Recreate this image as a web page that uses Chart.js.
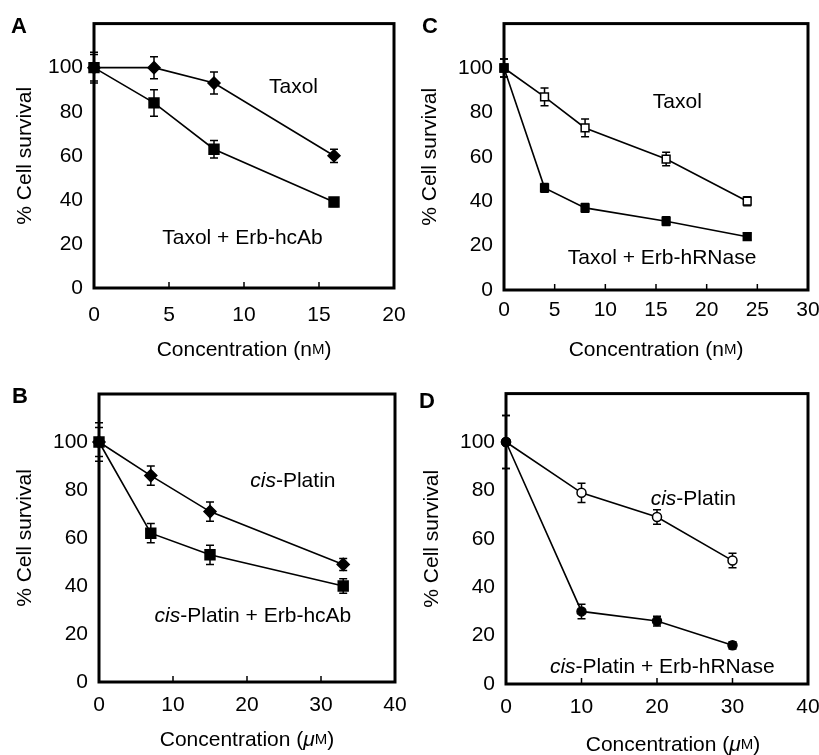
<!DOCTYPE html>
<html>
<head>
<meta charset="utf-8">
<script src="https://cdn.jsdelivr.net/npm/chart.js@4.4.0/dist/chart.umd.min.js"></script>
<style>
body { margin:0; background:#fff; width:819px; height:755px; position:relative; overflow:hidden; }
canvas { position:absolute; }
</style>
</head>
<body>
<canvas id="cA" width="410" height="370" style="left:0;top:0"></canvas>
<canvas id="cC" width="409" height="370" style="left:410px;top:0"></canvas>
<canvas id="cB" width="410" height="385" style="left:0;top:370px"></canvas>
<canvas id="cD" width="409" height="385" style="left:410px;top:370px"></canvas>
<script>
const FONT = '"Liberation Sans", Arial, Helvetica, sans-serif';
const yTicks = [0, 20, 40, 60, 80, 100];

// A: Taxol, nM
const concA = [0, 4, 8, 16];
const taxolA = [100, 100, 93, 60];
const taxolAErr = [7, 5, 5, 3];
const comboA = [100, 84, 63, 39];
const comboAErr = [6, 6, 4, 2];
const xTicksA = [0, 5, 10, 15, 20];

// C: Taxol, nM
const concC = [0, 4, 8, 16, 24];
const taxolC = [100, 87, 73, 59, 40];
const taxolCErr = [4, 4, 4, 3, 2];
const comboC = [100, 46, 37, 31, 24];
const comboCErr = [4, 2, 2, 2, 1.5];
const xTicksC = [0, 5, 10, 15, 20, 25, 30];

// B: cis-Platin, uM
const concB = [0, 7, 15, 33];
const platinB = [100, 86, 71, 49];
const platinBErr = [8, 4, 4, 2.5];
const comboB = [100, 62, 53, 40];
const comboBErr = [6, 4, 4, 3];
const xTicksB = [0, 10, 20, 30, 40];

// D: cis-Platin, uM
const concD = [0, 10, 20, 30];
const platinD = [100, 79, 69, 51];
const platinDErr = [11, 4, 3, 3];
const comboD = [100, 30, 26, 16];
const comboDErr = [11, 3, 2, 1.5];
const xTicksD = [0, 10, 20, 30, 40];

function drawParts(ctx, parts, cx, cy, size) {
  let w = 0;
  parts.forEach(s => {
    ctx.font = (s.italic ? 'italic ' : '') + (s.size || size) + 'px ' + FONT;
    w += ctx.measureText(s.t).width;
  });
  let x = cx - w / 2;
  parts.forEach(s => {
    ctx.font = (s.italic ? 'italic ' : '') + (s.size || size) + 'px ' + FONT;
    ctx.fillText(s.t, x, cy);
    x += ctx.measureText(s.t).width;
  });
}

function makePlugin(p) {
  return {
    id: 'panel' + p.letter,
    beforeDatasetsDraw(chart) {
      const ctx = chart.ctx, xs = chart.scales.x, ys = chart.scales.y;
      ctx.save();
      ctx.strokeStyle = '#000';
      ctx.lineWidth = 1.5;
      chart.data.datasets.forEach(ds => {
        ds.data.forEach((pt, i) => {
          const e = ds.err[i];
          const px = xs.getPixelForValue(pt.x);
          const y1 = ys.getPixelForValue(pt.y + e), y2 = ys.getPixelForValue(pt.y - e);
          ctx.beginPath();
          ctx.moveTo(px, y1); ctx.lineTo(px, y2);
          ctx.moveTo(px - 4, y1); ctx.lineTo(px + 4, y1);
          ctx.moveTo(px - 4, y2); ctx.lineTo(px + 4, y2);
          ctx.stroke();
        });
      });
      ctx.restore();
    },
    afterDatasetsDraw(chart) {
      const ctx = chart.ctx, a = chart.chartArea, xs = chart.scales.x, ys = chart.scales.y;
      ctx.save();
      // box
      ctx.strokeStyle = '#000';
      ctx.lineWidth = 3;
      ctx.strokeRect(a.left, a.top, a.right - a.left, a.bottom - a.top);
      // inward ticks on x
      ctx.lineWidth = 1.5;
      p.xTicks.forEach(v => {
        const px = xs.getPixelForValue(v);
        ctx.beginPath(); ctx.moveTo(px, a.bottom); ctx.lineTo(px, a.bottom - 6); ctx.stroke();
      });
      ctx.fillStyle = '#000';
      ctx.textBaseline = 'middle';
      // notes
      p.notes.forEach(n => {
        drawParts(ctx, n.parts, xs.getPixelForValue(n.x), ys.getPixelForValue(n.y), 21);
      });
      // x title
      drawParts(ctx, p.xTitle, (a.left + a.right) / 2 + (p.xTitleShift || 0), p.xTitleY, 21);
      // y title
      ctx.save();
      ctx.translate(p.yTitleX, (a.top + a.bottom) / 2);
      ctx.rotate(-Math.PI / 2);
      drawParts(ctx, [{ t: '% Cell survival' }], 0, 0, 21);
      ctx.restore();
      // panel letter
      ctx.textBaseline = 'alphabetic';
      ctx.font = 'bold 22px ' + FONT;
      ctx.fillText(p.letter, p.letterX, p.letterY);
      ctx.restore();
    }
  };
}

function makePanel(id, p) {
  new Chart(document.getElementById(id), {
    type: 'line',
    data: {
      datasets: p.series.map(s => ({
        data: p.conc.map((c, i) => ({ x: c, y: s.values[i] })),
        err: s.err,
        borderColor: '#000',
        borderWidth: 1.6,
        pointStyle: s.style,
        pointRadius: s.radius,
        pointBackgroundColor: s.open ? '#fff' : '#000',
        pointBorderColor: '#000',
        pointBorderWidth: 1.5,
        tension: 0,
        clip: false
      }))
    },
    options: {
      responsive: false,
      animation: false,
      layout: { padding: { top: p.top, right: p.right, left: 0, bottom: 0 } },
      plugins: { legend: { display: false }, tooltip: { enabled: false } },
      scales: {
        x: {
          type: 'linear', min: 0, max: p.xMax,
          grid: { display: false, drawTicks: false },
          border: { display: false },
          afterBuildTicks: ax => { ax.ticks = p.xTicks.map(v => ({ value: v })); },
          afterFit: ax => { ax.height = p.xHeight; ax.paddingLeft = 0; ax.paddingRight = 0; },
          ticks: { color: '#000', font: { family: FONT, size: 21 }, padding: p.xPad, maxRotation: 0, autoSkip: false }
        },
        y: {
          type: 'linear', min: 0, max: 120,
          grid: { display: false, drawTicks: false },
          border: { display: false },
          afterBuildTicks: ax => { ax.ticks = yTicks.map(v => ({ value: v })); },
          afterFit: ax => { ax.width = p.left; },
          ticks: { color: '#000', font: { family: FONT, size: 21 }, padding: 11 }
        }
      }
    },
    plugins: [makePlugin(p)]
  });
}

const nM = [{ t: 'Concentration (n' }, { t: 'M', size: 15 }, { t: ')' }];
const uM = [{ t: 'Concentration (' }, { t: '\u03bc', italic: true }, { t: 'M', size: 15 }, { t: ')' }];

// combination series first so its markers sit on top
makePanel('cA', {
  letter: 'A', letterX: 11, letterY: 33,
  conc: concA, xTicks: xTicksA, xMax: 20,
  left: 94, top: 17, right: 16, xHeight: 82, xPad: 15,
  xTitle: nM, xTitleY: 350, yTitleX: 25,
  series: [
    { values: comboA, err: comboAErr, style: 'rect', radius: 7 },
    { values: taxolA, err: taxolAErr, style: 'rectRot', radius: 6 }
  ],
  notes: [
    { parts: [{ t: 'Taxol' }], x: 13.3, y: 91 },
    { parts: [{ t: 'Taxol + Erb-hcAb' }], x: 9.9, y: 22.5 }
  ]
});

makePanel('cC', {
  letter: 'C', letterX: 12, letterY: 33,
  conc: concC, xTicks: xTicksC, xMax: 30,
  left: 94, top: 17, right: 11, xHeight: 80, xPad: 8,
  xTitle: nM, xTitleY: 350, yTitleX: 20,
  series: [
    { values: comboC, err: comboCErr, style: 'rect', radius: 5.5 },
    { values: taxolC, err: taxolCErr, style: 'rect', radius: 5.5, open: true }
  ],
  notes: [
    { parts: [{ t: 'Taxol' }], x: 17.1, y: 84.6 },
    { parts: [{ t: 'Taxol + Erb-hRNase' }], x: 15.6, y: 14.5 }
  ]
});

makePanel('cB', {
  letter: 'B', letterX: 12, letterY: 33,
  conc: concB, xTicks: xTicksB, xMax: 40,
  left: 99, top: 24, right: 15, xHeight: 73, xPad: 11,
  xTitle: uM, xTitleY: 370, yTitleX: 25,
  series: [
    { values: comboB, err: comboBErr, style: 'rect', radius: 7 },
    { values: platinB, err: platinBErr, style: 'rectRot', radius: 6 }
  ],
  notes: [
    { parts: [{ t: 'cis', italic: true }, { t: '-Platin' }], x: 26.2, y: 83.6 },
    { parts: [{ t: 'cis', italic: true }, { t: '-Platin + Erb-hcAb' }], x: 20.8, y: 27.3 }
  ]
});

makePanel('cD', {
  letter: 'D', letterX: 9, letterY: 38,
  conc: concD, xTicks: xTicksD, xMax: 40,
  left: 96, top: 23, right: 11, xHeight: 71, xPad: 11,
  xTitle: uM, xTitleY: 375, xTitleShift: 16, yTitleX: 22,
  series: [
    { values: comboD, err: comboDErr, style: 'circle', radius: 4.5 },
    { values: platinD, err: platinDErr, style: 'circle', radius: 4.5, open: true }
  ],
  notes: [
    { parts: [{ t: 'cis', italic: true }, { t: '-Platin' }], x: 24.8, y: 76.5 },
    { parts: [{ t: 'cis', italic: true }, { t: '-Platin + Erb-hRNase' }], x: 20.7, y: 7 }
  ]
});
</script>
</body>
</html>
